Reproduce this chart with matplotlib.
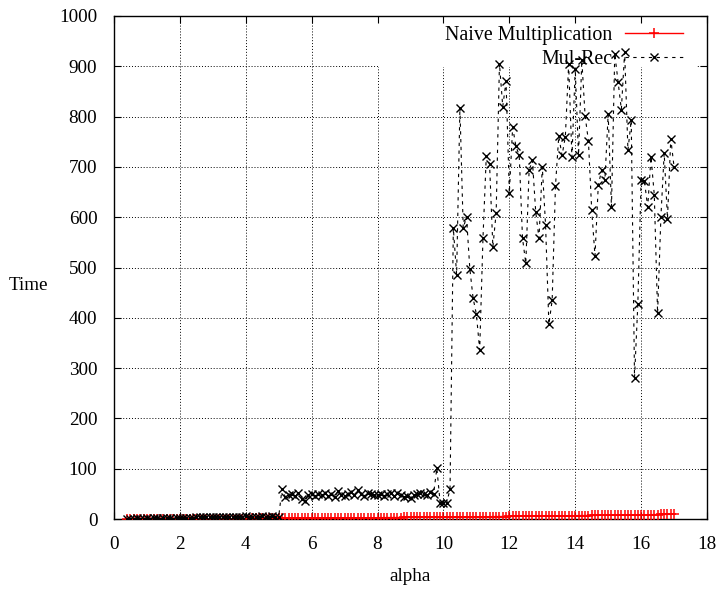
import numpy as np
import matplotlib
matplotlib.use('Agg')
import matplotlib.pyplot as plt
from matplotlib.patches import Rectangle

# alpha sampled every 0.1 from 0.4 to 17.0
alpha = np.arange(4, 171) / 10

naive_time = [
    0.1, 0.1, 0.1, 0.1, 0.2, 0.2, 0.2,
    0.2, 0.2, 0.2, 0.3, 0.3, 0.3, 0.3, 0.3, 0.4, 0.4,
    0.4, 0.4, 0.5, 0.5, 0.5, 0.5, 0.6, 0.6, 0.6, 0.7,
    0.7, 0.7, 0.8, 0.8, 0.8, 0.9, 0.9, 0.9, 1.0, 1.0,
    1.0, 1.1, 1.1, 1.1, 1.2, 1.2, 1.3, 1.3, 1.3, 1.4,
    1.4, 1.5, 1.5, 1.5, 1.6, 1.6, 1.7, 1.7, 1.7, 1.8,
    1.8, 1.9, 1.9, 2.0, 2.0, 2.0, 2.1, 2.1, 2.2, 2.2,
    2.3, 2.3, 2.4, 2.4, 2.4, 2.5, 2.5, 2.6, 2.6, 2.7,
    2.7, 2.8, 2.8, 2.9, 2.9, 3.0, 3.0, 3.1, 3.1, 3.2,
    3.2, 3.3, 3.3, 3.4, 3.5, 3.5, 3.6, 3.6, 3.7, 3.8,
    3.8, 3.9, 3.9, 4.0, 4.1, 4.1, 4.2, 4.3, 4.3, 4.4,
    4.5, 4.5, 4.6, 4.7, 4.7, 4.8, 4.9, 5.0, 5.0, 5.1,
    5.2, 5.2, 5.3, 5.4, 5.5, 5.5, 5.6, 5.7, 5.8, 5.8,
    5.9, 6.0, 6.1, 6.2, 6.2, 6.3, 6.4, 6.5, 6.6, 6.6,
    6.7, 6.8, 6.9, 7.0, 7.1, 7.1, 7.2, 7.3, 7.4, 7.5,
    7.6, 7.7, 7.8, 7.9, 8.0, 8.0, 8.1, 8.2, 8.3, 8.4,
    8.5, 8.6, 8.7, 8.8, 8.9, 9.0, 9.1, 9.2, 9.3, 9.4,
]

mulrec_time = [
    # 0.4 - 2.4
    1, 1, 1, 2, 1, 1, 2, 1, 2, 2, 1, 2, 2, 2, 1, 2, 2, 2, 2, 2, 2,
    # 2.5 - 5.0
    4, 5, 4, 5, 5, 4, 5, 5, 4, 5, 5, 5, 4, 5, 5, 6, 5, 5, 4, 5, 6, 5, 5, 6, 5, 5,
    # 5.1 - 9.7
    60, 44, 47, 50, 46, 52, 40, 36, 48, 50, 45, 49, 47, 52, 46, 50, 44, 56, 48, 45,
    50, 54, 47, 57, 49, 46, 52, 50, 48, 47, 50, 46, 49, 51, 45, 52, 48, 44, 46, 42,
    47, 50, 52, 49, 48, 53, 50,
    # 9.8 - 17.0
    101, 32, 32, 32, 60, 578, 486, 818, 578, 601, 498, 439, 407, 336, 559, 721,
    705, 541, 609, 905, 820, 870, 648, 779, 741, 723, 558, 508, 693, 713, 611, 558,
    700, 584, 387, 435, 662, 761, 723, 760, 904, 719, 895, 723, 912, 801, 752, 614,
    523, 664, 693, 673, 805, 620, 925, 869, 814, 928, 733, 793, 281, 427, 674, 672,
    620, 720, 644, 409, 600, 727, 597, 756, 700,
]

plt.rcParams['font.family'] = ['Liberation Serif', 'DejaVu Serif']
fs = 13.8
key_fs = 14.4

fig = plt.figure(figsize=(7.21, 5.90), dpi=100)
ax = fig.add_axes([0.1581, 0.1203, 0.8225, 0.8526])

ax.set_xlim(0, 18)
ax.set_ylim(0, 1000)
ax.set_xticks(range(0, 19, 2))
ax.set_yticks(range(0, 1001, 100))

# gnuplot style dotted grid, drawn by hand so the ticks stay on top
for v in ax.get_xticks()[1:-1]:
    ax.axvline(v, color='black', lw=0.7, ls=(0, (1, 2)), zorder=0.8)
for v in ax.get_yticks()[1:-1]:
    ax.axhline(v, color='black', lw=0.7, ls=(0, (1, 2)), zorder=0.8)

# the key area hides the grid
ax.add_patch(Rectangle((0.445, 0.8986), 0.538, 0.1014, transform=ax.transAxes,
                       facecolor='white', edgecolor='none', zorder=1))

l1, = ax.plot(alpha, naive_time, color='red', lw=1.0, marker='+', ms=7, mew=1.1,
              zorder=3, label='Naive Multiplication')
l2, = ax.plot(alpha, mulrec_time, color='black', lw=0.8, ls=(0, (3, 4)), marker='x',
              ms=6, mew=1.0, zorder=3.5, label='Mul-Rec')

leg1 = ax.legend(handles=[l1], loc='center right', bbox_to_anchor=(0.9765, 0.962),
                 frameon=False, markerfirst=False, fontsize=key_fs, borderpad=0,
                 handlelength=2.9, handletextpad=0.65)
leg1.set_zorder(2)
ax.add_artist(leg1)
leg2 = ax.legend(handles=[l2], loc='center right', bbox_to_anchor=(0.9765, 0.9135),
                 frameon=False, markerfirst=False, fontsize=key_fs, borderpad=0,
                 handlelength=2.9, handletextpad=0.65)
leg2.set_zorder(2)

ax.tick_params(direction='in', length=5, width=0.8, top=True, right=True,
               labelsize=fs, pad=12)
for s in ax.spines.values():
    s.set_linewidth(1.0)

ax.set_xlabel('alpha', fontsize=fs, labelpad=11)
fig.text(28 / 721, 1 - 285 / 590, 'Time', fontsize=fs, ha='center', va='center')

fig.savefig('out.png', dpi=100)
